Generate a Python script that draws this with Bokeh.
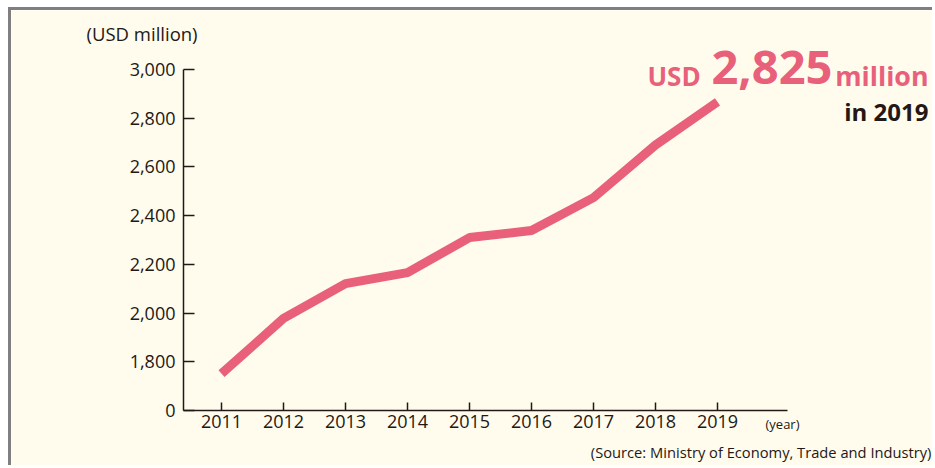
from bokeh.plotting import figure
from bokeh.models import Range1d, FixedTicker, Label
from bokeh.embed import file_html
from bokeh.resources import INLINE

# ---- data ----
years = [2011, 2012, 2013, 2014, 2015, 2016, 2017, 2018, 2019]
values = [1751, 1978, 2121, 2166, 2310, 2339, 2474, 2690, 2867]
y_ticks = [1600, 1800, 2000, 2200, 2400, 2600, 2800, 3000]
y_tick_labels = ["0", "1,800", "2,000", "2,200", "2,400", "2,600", "2,800", "3,000"]
unit_label = "(USD million)"
year_label = "(year)"
source_label = "(Source: Ministry of Economy, Trade and Industry)"
callout_prefix = "USD"
callout_value = "2,825"
callout_unit = "million"
callout_year = "in 2019"

BG = "#FFFCEE"
PINK = "#E8607A"
INK = "#231815"
FONT = "Open Sans"

X0, X1 = 2010.387, 2020.129      # extent of the drawn x axis
Y0, Y1 = 1600, 3000              # extent of the drawn y axis

p = figure(width=924, height=458, output_backend="svg", toolbar_location=None,
           x_range=Range1d(2007.613, 2022.516), y_range=Range1d(1361.9, 3242.2),
           min_border=0, min_border_left=0, min_border_right=0,
           min_border_top=0, min_border_bottom=0)
p.styles = {"border-top": "3px solid #7f7f7f", "border-left": "3px solid #7f7f7f",
            "margin-top": "7px", "margin-left": "8px"}
p.background_fill_color = BG
p.border_fill_color = BG
p.outline_line_color = None
p.xgrid.grid_line_color = None
p.ygrid.grid_line_color = None

p.line(years, values, line_width=9, line_color=PINK, line_cap="butt")

for ax in (p.xaxis[0], p.yaxis[0]):
    ax.axis_line_color = INK
    ax.axis_line_width = 1.5
    ax.major_tick_line_color = INK
    ax.major_tick_line_width = 1.5
    ax.minor_tick_line_color = None
    ax.major_tick_out = 0
    ax.major_label_text_font = FONT
    ax.major_label_text_font_size = "18px"
    ax.major_label_text_color = INK

p.xaxis.ticker = FixedTicker(ticks=years)
p.xaxis.fixed_location = Y0
p.xaxis.bounds = (X0, X1)
p.xaxis.major_tick_in = 8
p.xaxis.major_label_standoff = 4

p.yaxis.ticker = FixedTicker(ticks=y_ticks)
p.yaxis.fixed_location = X0
p.yaxis.bounds = (Y0, Y1)
p.yaxis.major_label_overrides = {t: s for t, s in zip(y_ticks, y_tick_labels)}
p.yaxis.major_tick_in = 11
p.yaxis.major_label_standoff = 8

def lab(x, y, text, size, color=INK, bold=False, align="left", baseline="middle"):
    p.add_layout(Label(x=x, y=y, text=text, text_font=FONT, text_font_size=size,
                       text_color=color, text_font_style="bold" if bold else "normal",
                       text_align=align, text_baseline=baseline))

lab(2008.823, 3147.8, unit_label, "18.5px")
lab(2019.774, 1546.6, year_label, "13px")
lab(2022.45, 1427.6, source_label, "14.7px", align="right")

lab(2017.87, 2974.1, callout_prefix, "26px", color=PINK, bold=True)
lab(2018.903, 3009.1, callout_value, "47px", color=PINK, bold=True)
lab(2020.90, 2977.0, callout_unit, "26.8px", color=PINK, bold=True)
lab(2022.403, 2828.8, callout_year, "24px", color=INK, bold=True, align="right")

open("out.html", "w").write(file_html(p, INLINE))
